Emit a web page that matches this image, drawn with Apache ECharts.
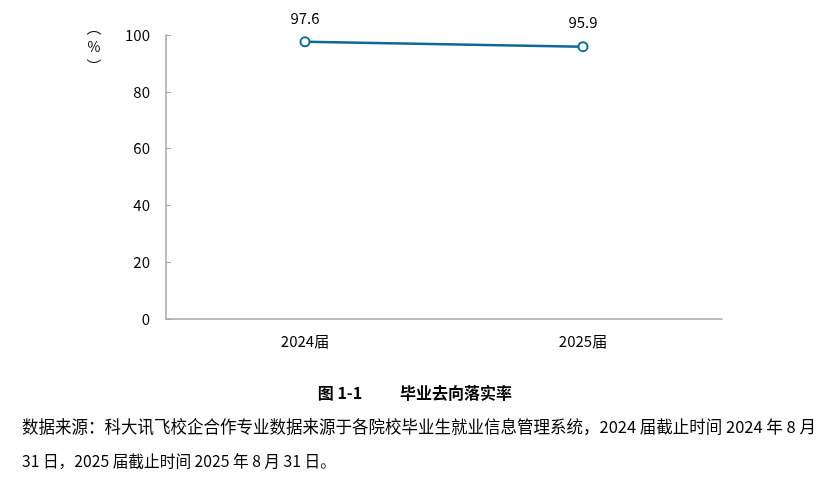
<!DOCTYPE html>
<html><head><meta charset="utf-8">
<script src="https://cdn.jsdelivr.net/npm/echarts@6/dist/echarts.min.js"></script>
<style>html,body{margin:0;padding:0;background:#fff}#c{width:832px;height:477px}</style>
</head><body><div id="c"></div>
<script>
var categories = ['2024届', '2025届'];
var rates = [97.6, 95.9];
var yTicks = [0, 20, 40, 60, 80, 100];
var titleLeft = '图 1-1';
var titleRight = '毕业去向落实率';
var noteLine1 = '数据来源：科大讯飞校企合作专业数据来源于各院校毕业生就业信息管理系统，2024 届截止时间 2024 年 8 月';
var noteLine2 = '31 日，2025 届截止时间 2025 年 8 月 31 日。';

var font = '"Noto Sans CJK SC", "Open Sans", sans-serif';
var chart = echarts.init(document.getElementById('c'));
chart.setOption({
  animation: false,
  grid: {left: 166, right: 110, top: 35, bottom: 158},
  xAxis: {
    type: 'category', data: categories, boundaryGap: true,
    axisLine: {lineStyle: {color: '#a6a6a6', width: 1.5}},
    axisTick: {inside: true, length: 5, lineStyle: {color: '#a6a6a6'}},
    axisLabel: {color: '#000', fontSize: 15, fontFamily: font, margin: 15}
  },
  yAxis: {
    type: 'value', min: yTicks[0], max: yTicks[yTicks.length-1], interval: 20,
    splitLine: {show: false},
    axisLine: {show: true, lineStyle: {color: '#a6a6a6', width: 1.5}},
    axisTick: {show: true, inside: true, length: 5, lineStyle: {color: '#a6a6a6'}},
    axisLabel: {color: '#000', fontSize: 15, fontFamily: font, margin: 16}
  },
  series: [{
    type: 'line', data: rates,
    symbol: 'emptyCircle', symbolSize: 9,
    lineStyle: {color: '#0f6896', width: 2.5},
    itemStyle: {color: '#0f6896', borderWidth: 3.5, borderColor: '#0f6896'},
    label: {show: true, position: 'top', distance: 11, color: '#000', fontSize: 15, fontFamily: font}
  }],
  graphic: [
    {type: 'text', x: 94, y: 27, style: {text: '︵', fill: '#000', font: '15px ' + font, align: 'center', verticalAlign: 'middle'}},
    {type: 'text', x: 94, y: 47, style: {text: '%', fill: '#000', font: '14px ' + font, align: 'center', verticalAlign: 'middle'}},
    {type: 'text', x: 94, y: 66, style: {text: '︶', fill: '#000', font: '15px ' + font, align: 'center', verticalAlign: 'middle'}},
    {type: 'text', x: 340, y: 393, style: {text: titleLeft, fill: '#000', font: 'bold 16px ' + font, align: 'center', verticalAlign: 'middle'}},
    {type: 'text', x: 456, y: 393, style: {text: titleRight, fill: '#000', font: 'bold 16px ' + font, align: 'center', verticalAlign: 'middle'}},
    {type: 'text', x: 22, y: 427, style: {text: noteLine1, fill: '#000', font: '16.5px ' + font, verticalAlign: 'middle'}},
    {type: 'text', x: 22, y: 461, style: {text: noteLine2, fill: '#000', font: '15.7px ' + font, verticalAlign: 'middle'}}
  ]
});
</script></body></html>
